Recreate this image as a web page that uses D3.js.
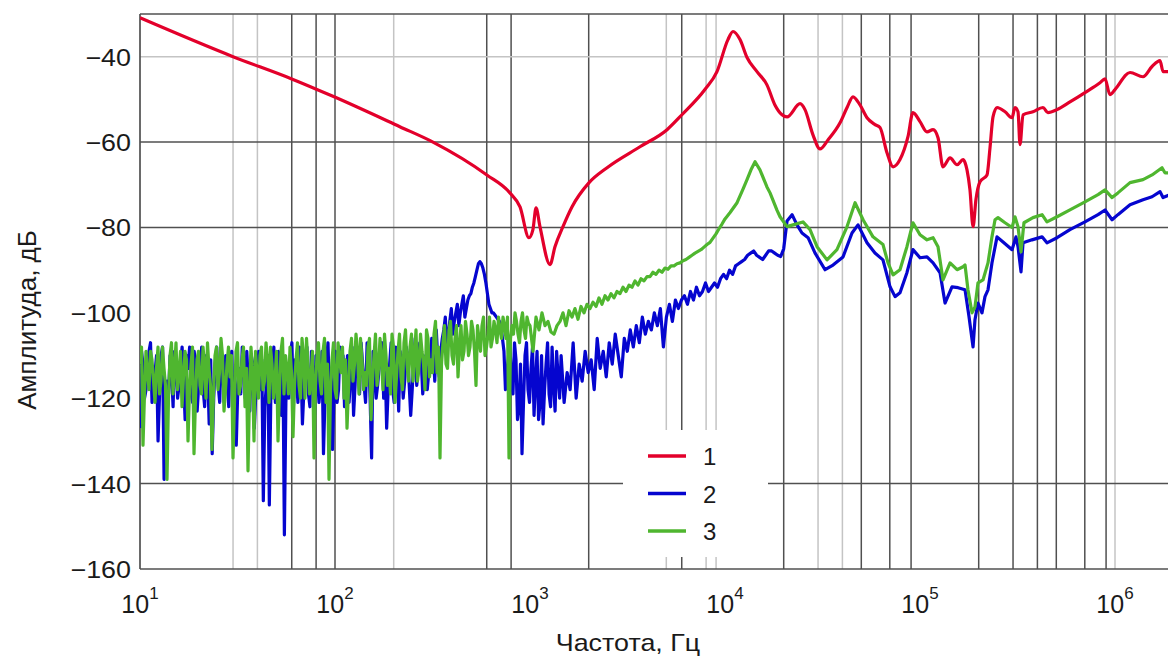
<!DOCTYPE html>
<html lang="ru">
<head>
<meta charset="UTF-8">
<title>Амплитуда</title>
<script src="https://cdn.jsdelivr.net/npm/d3@7"></script>
<style>
  body { margin: 0; background: #fff; }
  text { font-family: "Liberation Sans", Arial, sans-serif; fill: #1a1a1a; }
</style>
</head>
<body>
<div id="chart"></div>
<script>
// ---- data ----
// noisy low-frequency parts: dB values evenly spaced in log f between the two bounds
var blueNoiseFrom = 10, blueNoiseTo = 20000;
var blueNoise = [
  -127, -112, -118, -109, -121, -114, -130, -110, -139, -116,
  -110, -122, -112, -117, -108, -125, -113, -119, -109, -123,
  -114, -118, -110, -126, -133, -112, -117, -109, -121, -115,
  -111, -124, -131, -113, -108, -120, -116, -110, -127, -114,
  -118, -144, -117, -145, -112, -121, -109, -124, -152, -113,
  -110, -122, -115, -108, -126, -112, -119, -109, -124, -114,
  -117, -133, -111, -120, -132, -109, -118, -113, -122, -110,
  -115, -124, -108, -119, -112, -121, -110, -134, -114, -117,
  -109, -120, -127, -112, -118, -108, -123, -113, -116, -110,
  -124, -111, -117, -107, -119, -110, -114, -106, -116, -111,
  -109, -104, -108, -102, -105, -100, -103, -98, -101, -97,
  -95.5, -93, -90, -88, -89.5, -93, -98, -100, -100.5, -101.5,
  -103, -109, -114, -108, -119, -111, -122, -133, -110, -118,
  -113, -124, -109, -121, -126, -112, -119, -108, -123, -115,
  -110, -121, -114, -118, -107, -120, -112, -116, -109, -114,
  -111, -118, -106, -113, -109, -115, -107, -112, -105, -110,
  -115, -106, -109, -104, -108, -103, -107, -101, -105, -102,
  -104, -100, -103, -99, -108, -101, -98, -102, -97, -99,
  -97, -96, -98, -95, -97, -94, -96, -95, -93, -95,
  -94, -93, -94, -92, -91, -92, -90, -91, -89, -88.5,
  -88, -87.5, -86.5, -86, -85.5, -86.5, -87, -87.5, -86.5, -85.5,
  -85.5, -86, -86.5, -86.8, -85
];
// extra readings half-way between the first 140 blue samples
var blueNoiseMid = [
  -109, -120, -113, -107, -117, -110, -119, -108, -121, -119,
  -114, -109, -120, -112, -116, -110, -108, -121, -112, -117,
  -108, -122, -114, -111, -120, -108, -121, -113, -110, -122,
  -109, -115, -118, -119, -111, -109, -123, -112, -119, -109,
  -111, -122, -110, -119, -108, -117, -113, -110, -121, -120,
  -107, -111, -121, -112, -118, -108, -122, -114, -110, -121,
  -109, -120, -107, -113, -119, -121, -108, -110, -116, -121,
  -108, -117, -113, -107, -117, -107, -120, -109, -120, -113,
  -107, -112, -118, -107, -121, -112, -109, -120, -108, -117,
  -118, -106, -113, -111, -114, -118, -111, -109, -104, -115,
  -106, -101, -105, -99, -102, -98, -100, -96, -99, -96,
  -94, -91.5, -88.5, -88.5, -91, -95.5, -99, -100, -101, -102,
  -106, -118, -110, -116, -107, -125, -112, -121, -107, -121,
  -108, -116, -125, -110, -118, -107, -122, -117, -109, -120
];
var greenNoiseFrom = 10, greenNoiseTo = 10000;
var greenNoise = [
  -112, -131, -109, -118, -111, -121, -108, -116, -113, -139,
  -110, -119, -107, -114, -122, -109, -130, -112, -133, -111,
  -117, -108, -120, -113, -132, -110, -118, -106, -123, -112,
  -115, -134, -109, -119, -111, -122, -137, -108, -130, -114,
  -110, -118, -107, -121, -112, -116, -130, -109, -119, -113,
  -108, -129, -111, -117, -106, -120, -112, -115, -134, -110,
  -116, -109, -121, -139, -111, -118, -107, -114, -120, -127,
  -109, -116, -105, -119, -111, -114, -108, -125, -110, -117,
  -106, -118, -110, -113, -105, -121, -109, -115, -107, -112,
  -108, -116, -104, -113, -109, -118, -106, -111, -105, -114,
  -134, -107, -112, -104, -110, -106, -115, -103, -109, -105,
  -108, -104, -117, -106, -103, -110, -105, -108, -102, -107,
  -104, -101, -106, -134, -103, -100, -105, -102, -104, -101,
  -103, -109, -101, -104, -100, -103, -102, -104.5, -105, -103,
  -102, -100, -103, -99.5, -101, -99, -101.5, -98.5, -100, -98,
  -99, -97.5, -98.5, -96.5, -98, -96, -97, -95.5, -96.5, -95,
  -95.5, -94, -95, -93.5, -94, -92.5, -93.5, -92, -92.5, -91.5,
  -91.5, -90.5, -91, -90, -90.5, -89.5, -89.8, -89, -89, -88.5,
  -88.3, -87.8, -87.5, -87, -86.5, -86, -85.6, -85.2, -84.6, -84,
  -83.5, -82.5, -81.5, -80.3, -79.2, -78
];
// extra readings half-way between the first 130 green samples
var greenNoiseMid = [
  -108, -119, -114, -109, -116, -113, -119, -108, -117, -120,
  -107, -113, -118, -109, -115, -111, -118, -108, -120, -109,
  -119, -112, -107, -117, -119, -108, -114, -110, -118, -108,
  -110, -121, -107, -117, -108, -113, -119, -114, -109, -120,
  -108, -116, -111, -108, -120, -109, -118, -106, -110, -119,
  -114, -117, -107, -120, -110, -106, -119, -109, -117, -107,
  -119, -106, -112, -118, -107, -120, -110, -108, -111, -118,
  -106, -112, -109, -106, -118, -117, -106, -116, -105, -113,
  -111, -105, -117, -119, -108, -115, -105, -118, -104, -116,
  -105, -110, -116, -105, -112, -104, -115, -114, -102, -108,
  -112, -103, -113, -102, -112, -103, -108, -111, -102, -110,
  -102, -109, -103, -109, -101, -108, -101, -106, -104, -101,
  -106, -103, -101, -106, -105, -102, -107, -100, -106, -102.5
];

// [frequency Hz, dB]
var bluePoints = [
  [20800, -78.5], [22080, -77], [23400, -79.4], [24820, -81.3], [26670, -82.4],
  [28970, -86], [32590, -89.9], [35810, -88.8], [40290, -86.9], [44800, -81.3],
  [48100, -79.4], [53490, -83.6], [58760, -86], [64570, -87.6], [70200, -93.9],
  [74500, -96.2], [78960, -95.3], [85700, -90.6], [92040, -85.2], [100000, -87.1],
  [108600, -86.9], [116700, -88.3], [126700, -90.6], [134400, -97.7], [145900, -93.9],
  [156700, -94.1], [170200, -94.6], [178400, -100.9], [187100, -108], [191400, -101.6],
  [198300, -97.7], [207900, -100], [215400, -96.2], [223200, -94.6], [233900, -88.3],
  [248300, -82.2], [266600, -83.4], [296500, -85.2], [310500, -82.2], [318100, -84.5],
  [329600, -90.4], [337500, -83.6], [375100, -82.9], [422600, -82.2], [447700, -83.6],
  [504500, -82.4], [587500, -80.5], [701400, -78.7], [818500, -77], [889000, -75.9],
  [966000, -78.2], [1035000, -77], [1194000, -74.7], [1392000, -73.5], [1549000, -72.8],
  [1702000, -71.6], [1763000, -73], [1914000, -72.3]
];
var greenPoints = [
  [10620, -76.5], [11530, -74.2], [12370, -71], [12970, -68.8], [13590, -66.5],
  [14260, -64.6], [15110, -66.5], [16410, -70.5], [17020, -71.9], [18490, -76],
  [19150, -77.5], [20800, -79.8], [22320, -79.4], [25120, -78.7], [27290, -80.5],
  [29650, -84.5], [33350, -87.6], [37510, -85.2], [42270, -79.8], [46450, -74.2],
  [51050, -78.2], [57410, -82.2], [64570, -84], [68550, -88.3], [72770, -91.1],
  [78960, -89.9], [85700, -84.5], [92040, -78.9], [100000, -81.7], [108600, -82.9],
  [116700, -82.4], [123700, -84.5], [131200, -92.3], [142600, -88.3], [154900, -89.9],
  [166300, -89.2], [170200, -88.8], [176200, -94.6], [184800, -100], [191400, -98.6],
  [198300, -93], [210400, -92.3], [223200, -88.3], [233900, -82.2], [242500, -78.2],
  [251200, -77.7], [272900, -78.9], [296500, -80], [306900, -77.5], [318100, -79.8],
  [329600, -85.7], [341300, -78.9], [379600, -77.7], [422600, -77], [447700, -78.7],
  [504500, -77.5], [587500, -75.9], [701400, -74], [818500, -72.3], [889000, -71.2],
  [966000, -73], [1035000, -71.9], [1194000, -69.5], [1392000, -68.8], [1549000, -67.7],
  [1742000, -66], [1803000, -67.2], [1914000, -67.2]
];
var redPoints = [
  [10, -30.9], [30, -40], [60, -45.2], [99, -49.4], [215, -56.4], [318, -60],
  [601, -67.7], [789, -71.9], [889, -75.2], [988, -82.4], [1035, -80.5], [1074, -75.4],
  [1125, -79.8], [1267, -88.7], [1343, -84.5], [1476, -79.8], [1641, -75.2], [2009, -69.5],
  [2484, -66], [3664, -61.1], [5043, -57.1], [6013, -53.6], [7888, -47.7], [9096, -43.5],
  [10355, -36], [10990, -34.1], [11940, -36], [12970, -40.2], [14590, -43.5], [16410, -46.6],
  [18030, -51.3], [19600, -53.6], [20800, -54.1], [24270, -51], [25710, -52.4], [28260, -58.3],
  [30690, -61.6], [33730, -59.5], [38900, -55.5], [42270, -51.9], [45330, -49.4], [49230, -51.3],
  [53490, -54.3], [58760, -55.9], [62350, -56.6], [67730, -62.5], [72770, -65.8], [78960, -64.1],
  [86700, -58.8], [92040, -53.1], [100000, -55.2], [108600, -57.6], [116700, -57.1], [123700, -59],
  [131200, -65.8], [142600, -63.7], [154900, -65.3], [166300, -64.1], [170200, -64.8], [174200, -66.5],
  [180400, -71.2], [187100, -79.8], [193700, -73.4], [203100, -69.3], [220600, -67.7], [228600, -61.3],
  [236800, -54.1], [248300, -51.9], [272900, -52.9], [296500, -54.3], [306900, -51.9], [318100, -52.9],
  [325800, -60.6], [337500, -53.6], [379600, -52.9], [427300, -51.9], [452900, -53.1], [504500, -52.4],
  [587500, -50.6], [701400, -48.4], [837600, -46.1], [889000, -45.2], [941900, -48.9], [1000000, -47.7],
  [1194000, -43.7], [1392000, -44.7], [1549000, -42.3], [1702000, -40.9], [1763000, -43.5], [1914000, -43.5]
];

var gridLight = [30, 40, 200, 5000, 8000, 9000, 30000, 40000, 1000000];
var gridDark = [60, 80, 100, 600, 800, 2000, 6000, 20000, 50000, 70000, 90000,
                200000, 300000, 400000, 500000, 700000, 900000];
var hGridLight = [-40];
var hGridDark = [-60, -80, -140];
var yTicks = [-40, -60, -80, -100, -120, -140, -160];
var xTicks = [10, 100, 1000, 10000, 100000, 1000000];
var legendNames = ["1", "2", "3"];
var colors = { red: "#e3002b", blue: "#0505cf", green: "#4fb62f" };

// ---- layout ----
var W = 1168, H = 659;
var margin = { left: 140, top: 14 };
var plotW = 195 * Math.log10(2e6 / 10), plotH = 555;

var svg = d3.select("#chart").append("svg")
  .attr("width", W).attr("height", H);

var x = d3.scaleLog().domain([10, 2e6]).range([margin.left, margin.left + plotW]);
var y = d3.scaleLinear().domain([-160, -30]).range([margin.top + plotH, margin.top]);

// place evenly-spaced (log f) readings; "mid" readings sit half a step later
function spread(f0, f1, vals, n, offset) {
  return vals.map(function(v, i) { return [f0 * Math.pow(f1 / f0, (i + offset) / (n - 1)), v]; });
}
function byFreq(a, b) { return a[0] - b[0]; }
var blue = spread(blueNoiseFrom, blueNoiseTo, blueNoise, blueNoise.length, 0)
  .concat(spread(blueNoiseFrom, blueNoiseTo, blueNoiseMid, blueNoise.length, 0.5))
  .sort(byFreq).concat(bluePoints);
var green = spread(greenNoiseFrom, greenNoiseTo, greenNoise, greenNoise.length, 0)
  .concat(spread(greenNoiseFrom, greenNoiseTo, greenNoiseMid, greenNoise.length, 0.5))
  .sort(byFreq).concat(greenPoints);
var red = redPoints;

svg.append("clipPath").attr("id", "clip")
  .append("rect").attr("x", margin.left).attr("y", margin.top)
  .attr("width", plotW).attr("height", plotH);

// grid
var grid = svg.append("g");
grid.selectAll(".vl").data(gridLight).enter().append("line")
  .attr("x1", d => x(d)).attr("x2", d => x(d))
  .attr("y1", y(-30)).attr("y2", y(-160))
  .attr("stroke", "#c4c4c4").attr("stroke-width", 1.5);
grid.selectAll(".vd").data(gridDark).enter().append("line")
  .attr("x1", d => x(d)).attr("x2", d => x(d))
  .attr("y1", y(-30)).attr("y2", y(-160))
  .attr("stroke", "#505050").attr("stroke-width", 1.5);
grid.selectAll(".hl").data(hGridLight).enter().append("line")
  .attr("x1", x(10)).attr("x2", x(2e6))
  .attr("y1", d => y(d)).attr("y2", d => y(d))
  .attr("stroke", "#c4c4c4").attr("stroke-width", 1.5);
grid.selectAll(".hd").data(hGridDark).enter().append("line")
  .attr("x1", x(10)).attr("x2", x(2e6))
  .attr("y1", d => y(d)).attr("y2", d => y(d))
  .attr("stroke", "#505050").attr("stroke-width", 1.5);

// frame: top, bottom, left
svg.append("line").attr("x1", x(10)).attr("x2", x(2e6)).attr("y1", y(-30)).attr("y2", y(-30))
  .attr("stroke", "#505050").attr("stroke-width", 1.5);
svg.append("line").attr("x1", x(10)).attr("x2", x(2e6)).attr("y1", y(-160)).attr("y2", y(-160))
  .attr("stroke", "#505050").attr("stroke-width", 1.7);
svg.append("line").attr("x1", x(10)).attr("x2", x(10)).attr("y1", y(-30)).attr("y2", y(-160))
  .attr("stroke", "#505050").attr("stroke-width", 1.7);

// curves
var lineRaw = d3.line().x(d => x(d[0])).y(d => y(d[1]));
var lineSmooth = d3.line().x(d => x(d[0])).y(d => y(d[1])).curve(d3.curveMonotoneX);
var curves = svg.append("g").attr("clip-path", "url(#clip)");
[[blue, colors.blue, lineRaw], [green, colors.green, lineRaw], [red, colors.red, lineSmooth]].forEach(function(s) {
  curves.append("path").datum(s[0])
    .attr("d", s[2])
    .attr("fill", "none")
    .attr("stroke", s[1])
    .attr("stroke-width", 3.2)
    .attr("stroke-linejoin", "round");
});

// legend
var lg = svg.append("g");
lg.append("rect").attr("x", 623).attr("y", 430).attr("width", 145).attr("height", 127).attr("fill", "#fff");
[colors.red, colors.blue, colors.green].forEach(function(c, i) {
  var ly = 456 + i * 37.5;
  lg.append("line").attr("x1", 648).attr("x2", 686).attr("y1", ly).attr("y2", ly)
    .attr("stroke", c).attr("stroke-width", 3.5);
  lg.append("text").attr("x", 703).attr("y", ly + 9).attr("font-size", 24).text(legendNames[i]);
});

// y tick labels
svg.selectAll(".yt").data(yTicks).enter().append("text")
  .attr("transform", d => "translate(131," + (y(d) + 9) + ") scale(1.12,1)")
  .attr("text-anchor", "end").attr("font-size", 24)
  .text(d => "\u2212" + Math.abs(d));

// x tick labels 10^n
xTicks.forEach(function(t) {
  var tx = svg.append("text").attr("x", x(t)).attr("y", 613)
    .attr("text-anchor", "middle").attr("font-size", 25);
  tx.append("tspan").text("10");
  tx.append("tspan").attr("dy", -14).attr("font-size", 17).text(Math.round(Math.log10(t)));
});

// axis titles
svg.append("text").attr("transform", "translate(36,320) rotate(-90)")
  .attr("text-anchor", "middle").attr("font-size", 26).text("Амплитуда, дБ");
svg.append("text").attr("transform", "translate(628,651) scale(1.12,1)")
  .attr("text-anchor", "middle").attr("font-size", 24).text("Частота, Гц");
</script>
</body>
</html>
